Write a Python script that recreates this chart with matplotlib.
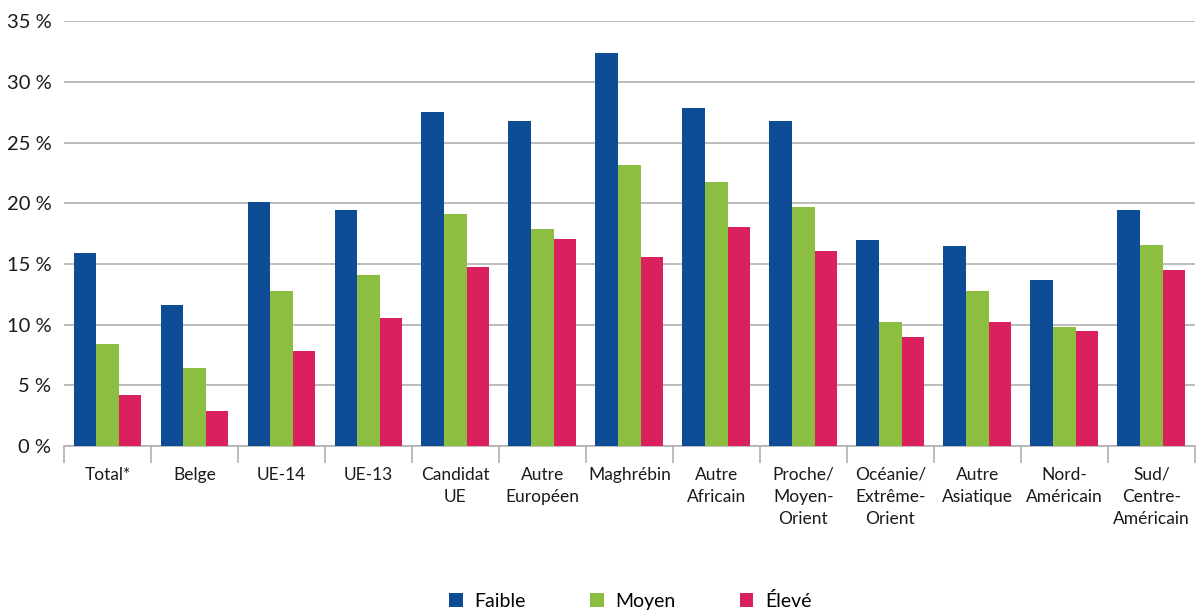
import numpy as np
import matplotlib
matplotlib.use("Agg")
import matplotlib.pyplot as plt

plt.rcParams['font.family'] = ['Lato', 'DejaVu Sans']

categories = ["Total*", "Belge", "UE-14", "UE-13", "Candidat\nUE", "Autre\nEuropéen",
              "Maghrébin", "Autre\nAfricain", "Proche/\nMoyen-\nOrient",
              "Océanie/\nExtrême-\nOrient", "Autre\nAsiatique", "Nord-\nAméricain",
              "Sud/\nCentre-\nAméricain"]
faible = [15.9, 11.6, 20.1, 19.5, 27.5, 26.8, 32.4, 27.9, 26.8, 17.0, 16.5, 13.7, 19.5]
moyen = [8.4, 6.4, 12.8, 14.1, 19.1, 17.9, 23.2, 21.8, 19.7, 10.2, 12.8, 9.8, 16.6]
eleve = [4.2, 2.9, 7.8, 10.6, 14.8, 17.1, 15.6, 18.1, 16.1, 9.0, 10.2, 9.5, 14.5]
series = [("Faible", faible, "#0F4C96"), ("Moyen", moyen, "#8CBF41"), ("Élevé", eleve, "#DA215E")]

fig = plt.figure(figsize=(11.96, 6.12), dpi=100)
ax = fig.add_axes([0.0535, 0.271, 0.9455, 0.694])

x = np.arange(len(categories))
w = 0.26
for i, (name, vals, col) in enumerate(series):
    ax.bar(x + (i - 1) * w, vals, w, color=col, label=name, zorder=3)

ax.set_xlim(-0.5, len(categories) - 0.5)
ax.set_ylim(0, 35)
ax.set_yticks(range(0, 36, 5))
ax.set_yticklabels(["%d %%" % v for v in range(0, 36, 5)], fontsize=14.5, color="#1a1a1a")
ax.yaxis.grid(True, color="#b0b0b0", linewidth=1.2, zorder=0)
ax.tick_params(axis='y', length=0, pad=9)

ax.set_xticks(x)
ax.set_xticklabels(categories, fontsize=12.5, color="#1a1a1a", linespacing=1.45)
ax.tick_params(axis='x', which='major', length=0, pad=15)
ax.set_xticks(np.arange(len(categories) + 1) - 0.5, minor=True)
ax.tick_params(axis='x', which='minor', length=12, color="#b0b0b0", width=1.2)

for s in ['top', 'right', 'left']:
    ax.spines[s].set_visible(False)
ax.spines['bottom'].set_color("#b0b0b0")
ax.spines['bottom'].set_linewidth(1.2)

fig.legend(loc='center', bbox_to_anchor=(0.527, 0.018), ncol=3, frameon=False,
           fontsize=14, handlelength=0.7, handleheight=0.7, handletextpad=0.6,
           columnspacing=3.3)

fig.savefig("out.png", dpi=100)
